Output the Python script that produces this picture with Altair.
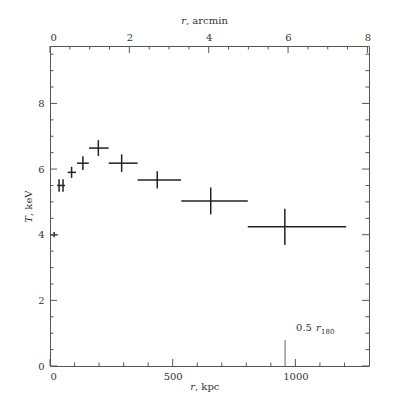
import altair as alt
import pandas as pd

# ---- data ----
r_kpc = [17, 37, 53, 88, 134, 197, 292, 437, 655, 957]
r_lo = [1, 29, 45, 72, 110, 159, 239, 357, 535, 806]
r_hi = [31, 45, 61, 106, 158, 239, 357, 534, 806, 1207]
T_keV = [4.0, 5.5, 5.5, 5.9, 6.18, 6.64, 6.18, 5.67, 5.03, 4.24]
T_err = [0.08, 0.19, 0.19, 0.17, 0.21, 0.24, 0.27, 0.26, 0.41, 0.55]

half_r180 = 958  # kpc

x_major = [0, 500, 1000]
x_minor = [100, 200, 300, 400, 600, 700, 800, 900, 1100, 1200]
top_major = [0, 2, 4, 6, 8]
top_minor = [0.5, 1, 1.5, 2.5, 3, 3.5, 4.5, 5, 5.5, 6.5, 7, 7.5]
y_major = [0, 2, 4, 6, 8]
y_minor = [0.5, 1, 1.5, 2.5, 3, 3.5, 4.5, 5, 5.5, 6.5, 7, 7.5, 8.5, 9, 9.5]

X_DOMAIN = [0, 1300]
TOP_DOMAIN = [0, 8.04]
Y_DOMAIN = [0, 9.75]

W, H = 319, 320
FONT = "DejaVu Serif"
INK = "#222222"
FRAME = "#555555"

df = pd.DataFrame({"r": r_kpc, "lo": r_lo, "hi": r_hi, "T": T_keV, "e": T_err})
df["Tlo"] = df["T"] - df["e"]
df["Thi"] = df["T"] + df["e"]

xs = alt.Scale(domain=X_DOMAIN, nice=False, zero=False)
ts = alt.Scale(domain=TOP_DOMAIN, nice=False, zero=False)
ys = alt.Scale(domain=Y_DOMAIN, nice=False, zero=False)

lab = dict(labelFont=FONT, labelFontSize=10, labelColor="#333333", grid=False,
           ticks=False, tickSize=0, domain=False, title=None, format="d")

# horizontal bars (with bottom and left axes)
hbar = alt.Chart(df).mark_rule(color=INK, strokeWidth=1.5).encode(
    x=alt.X("lo:Q", scale=xs, axis=alt.Axis(orient="bottom", values=x_major, labelPadding=5, **lab)),
    x2="hi:Q",
    y=alt.Y("T:Q", scale=ys, axis=alt.Axis(orient="left", values=y_major, labelPadding=6, **lab)),
)
vbar = alt.Chart(df).mark_rule(color=INK, strokeWidth=1.5).encode(
    x=alt.X("r:Q", scale=xs, axis=None),
    y=alt.Y("Tlo:Q", scale=ys, axis=None),
    y2="Thi:Q",
)

# top axis in arcmin
top_axis = alt.Chart(pd.DataFrame({"v": top_major})).mark_rule(color=FRAME, strokeWidth=1).encode(
    x=alt.X("v:Q", scale=ts, axis=alt.Axis(orient="top", values=top_major, labelPadding=4, **lab)),
    y=alt.value(0), y2=alt.value(7),
)
top_min = alt.Chart(pd.DataFrame({"v": top_minor})).mark_rule(color=FRAME, strokeWidth=1).encode(
    x=alt.X("v:Q", scale=ts, axis=None), y=alt.value(0), y2=alt.value(3.5),
)

def xticks(vals, length):
    return alt.Chart(pd.DataFrame({"v": vals})).mark_rule(color=FRAME, strokeWidth=1).encode(
        x=alt.X("v:Q", scale=xs, axis=None), y=alt.value(H), y2=alt.value(H - length))

def yticks(vals, length, right=False):
    x0 = W if right else 0
    x1 = W - length if right else length
    return alt.Chart(pd.DataFrame({"v": vals})).mark_rule(color=FRAME, strokeWidth=1).encode(
        y=alt.Y("v:Q", scale=ys, axis=None), x=alt.value(x0), x2=alt.value(x1))

# 0.5 r180 marker
r180_df = pd.DataFrame({"r": [half_r180]})
r180_line = alt.Chart(r180_df).mark_rule(color="#666666", strokeWidth=1).encode(
    x=alt.X("r:Q", scale=xs, axis=None), y=alt.value(294), y2=alt.value(H))

def r180_text(txt, dx, y, size=10, style="normal"):
    d = pd.DataFrame({"r": [half_r180], "t": [txt]})
    return alt.Chart(d).mark_text(font=FONT, fontSize=size, fontStyle=style, color="#333333",
                                  align="left", baseline="alphabetic", dx=dx).encode(
        x=alt.X("r:Q", scale=xs, axis=None), y=alt.value(y), text="t:N")

def label(txt, x, y, align, style="normal", angle=0):
    d = pd.DataFrame({"t": [txt]})
    return alt.Chart(d).mark_text(font=FONT, fontSize=10, fontStyle=style, color="#333333",
                                  align=align, baseline="alphabetic", angle=angle).encode(
        x=alt.value(x), y=alt.value(y), text="t:N")

titles = [
    label("r", 136, -22, "right", "italic"),
    label(", arcmin", 136, -22, "left"),
    label("r", 145, 344, "right", "italic"),
    label(", kpc", 145, 344, "left"),
    label("T", -18, 170, "right", "italic", 270),
    label(", keV", -18, 170, "left", "normal", 270),
]

chart = alt.layer(
    hbar, vbar, top_axis, top_min,
    xticks(x_major, 7), xticks(x_minor, 3.5),
    yticks(y_major, 7), yticks(y_minor, 3.5),
    yticks(y_major, 7, True), yticks(y_minor, 3.5, True),
    r180_line,
    r180_text("0.5", 11, 285),
    r180_text("r", 31, 285, 10, "italic"),
    r180_text("180", 36, 288, 7),
    *titles,
).resolve_scale(x="independent").resolve_axis(y="independent").properties(
    width=W, height=H,
    autosize=alt.AutoSizeParams(type="none"),
    padding={"left": 42, "top": 38, "right": 26, "bottom": 29},
).configure_view(stroke=FRAME, strokeWidth=1)

chart.save("out.html", embed_options={"renderer": "svg", "actions": False})
